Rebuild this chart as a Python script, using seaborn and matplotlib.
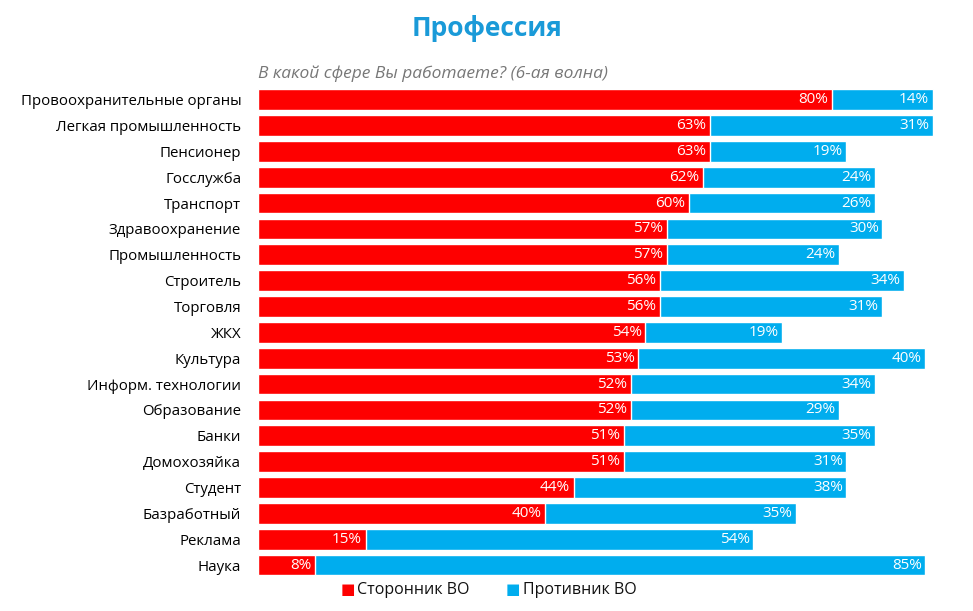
import pandas as pd
import seaborn as sns
import matplotlib.pyplot as plt

# Data
professions = [
    "Провоохранительные органы", "Легкая промышленность", "Пенсионер",
    "Госслужба", "Транспорт", "Здравоохранение", "Промышленность",
    "Строитель", "Торговля", "ЖКХ", "Культура", "Информ. технологии",
    "Образование", "Банки", "Домохозяйка", "Студент", "Базработный",
    "Реклама", "Наука",
]
supporters = [80, 63, 63, 62, 60, 57, 57, 56, 56, 54, 53, 52, 52, 51, 51, 44, 40, 15, 8]
opponents = [14, 31, 19, 24, 26, 30, 24, 34, 31, 19, 40, 34, 29, 35, 31, 38, 35, 54, 85]

red = "#fe0000"
blue = "#00adee"

df = pd.DataFrame({"prof": professions, "pro": supporters, "contra": opponents})
df["total"] = df["pro"] + df["contra"]

sns.set_style("white")
plt.rcParams["font.family"] = ["Open Sans", "DejaVu Sans"]

fig = plt.figure(figsize=(9.73, 6.11), dpi=100)
ax = fig.add_axes([0.265, 0.054, 0.695, 0.804])

sns.barplot(data=df, y="prof", x="total", color=blue, orient="h",
            width=0.8, saturation=1, ax=ax)
sns.barplot(data=df, y="prof", x="pro", color=red, orient="h",
            width=0.8, saturation=1, ax=ax)

for i, row in df.iterrows():
    ax.text(row["pro"] - 0.5, i, f"{row['pro']}%", ha="right", va="center",
            color="white", fontsize=11)
    ax.text(row["total"] - 0.5, i, f"{row['contra']}%", ha="right", va="center",
            color="white", fontsize=11)

ax.set_xlim(0, 94.2)
ax.set_xlabel("")
ax.set_ylabel("")
ax.set_xticks([])
ax.tick_params(axis="y", length=0, labelsize=10.8, pad=12, labelcolor="black")
sns.despine(ax=ax, left=True, bottom=True)

fig.text(0.5, 0.953, "Профессия", ha="center", va="center", fontsize=19,
         fontweight="bold", color="#1a9ad8")
fig.text(0.265, 0.88, "В какой сфере Вы работаете? (6-ая волна)", ha="left",
         va="center", fontsize=12.5, style="italic", color="#777777")

# legend
fig.text(0.357, 0.034, "■", color=red, fontsize=11, ha="center", va="center")
fig.text(0.367, 0.034, "Сторонник ВО", color="#111111", fontsize=11.5, va="center")
fig.text(0.527, 0.034, "■", color=blue, fontsize=11, ha="center", va="center")
fig.text(0.537, 0.034, "Противник ВО", color="#111111", fontsize=11.5, va="center")

fig.savefig("out.png", dpi=100)
